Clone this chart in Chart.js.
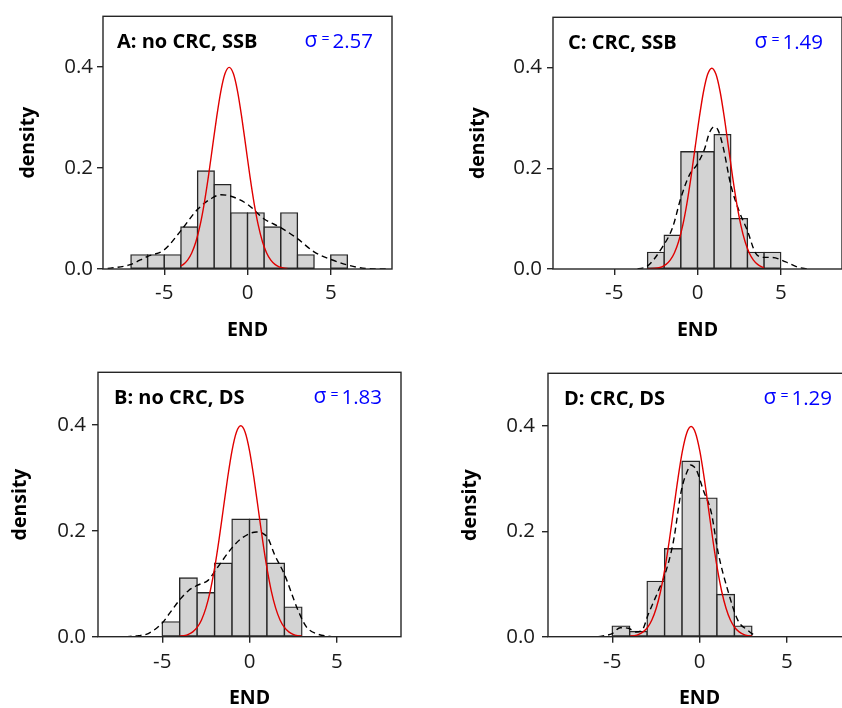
<!DOCTYPE html>
<html>
<head>
<meta charset="utf-8">
<script src="https://cdn.jsdelivr.net/npm/chart.js@4.4.1/dist/chart.umd.min.js"></script>
<style>
  html, body { margin: 0; padding: 0; background: #fff; overflow: hidden; }
  body { width: 842px; height: 708px; position: relative; }
  canvas { position: absolute; }
</style>
</head>
<body>
<canvas id="panelA" width="421" height="354" style="left:0px;top:0px"></canvas>
<canvas id="panelC" width="421" height="354" style="left:421px;top:0px"></canvas>
<canvas id="panelB" width="421" height="370" style="left:0px;top:354px"></canvas>
<canvas id="panelD" width="430" height="370" style="left:421px;top:354px"></canvas>
<script>
// axis ticks
var xTicks = [-5, 0, 5];
var yTicks = [0, 0.2, 0.4];

// panel titles and sigma labels
var labelA = 'A: no CRC, SSB', sigmaA = '2.57';
var labelB = 'B: no CRC, DS', sigmaB = '1.83';
var labelC = 'C: CRC, SSB', sigmaC = '1.49';
var labelD = 'D: CRC, DS', sigmaD = '1.29';

// histogram bins (centres) and densities
var binsA = [-6.5, -5.5, -4.5, -3.5, -2.5, -1.5, -0.5, 0.5, 1.5, 2.5, 3.5, 4.5, 5.5];
var densA = [0.028, 0.028, 0.028, 0.083, 0.194, 0.167, 0.111, 0.111, 0.083, 0.111, 0.028, 0, 0.028];
var binsB = [-4.5, -3.5, -2.5, -1.5, -0.5, 0.5, 1.5, 2.5];
var densB = [0.028, 0.111, 0.083, 0.139, 0.222, 0.222, 0.139, 0.056];
var binsC = [-2.5, -1.5, -0.5, 0.5, 1.5, 2.5, 3.5, 4.5];
var densC = [0.033, 0.067, 0.233, 0.233, 0.267, 0.1, 0.033, 0.033];
var binsD = [-4.5, -3.5, -2.5, -1.5, -0.5, 0.5, 1.5, 2.5];
var densD = [0.020, 0.010, 0.105, 0.167, 0.333, 0.263, 0.080, 0.020];

// red reference curves
var redXA = [-4.0, -3.85, -3.6, -3.35, -3.1, -2.85, -2.6, -2.35, -2.1, -1.85, -1.6, -1.35, -1.1, -0.85, -0.6, -0.35, -0.1, 0.15, 0.4, 0.65, 0.9, 1.15, 1.4, 1.65, 1.9, 2.15, 2.4];
var redYA = [0.006, 0.0091, 0.0175, 0.0317, 0.054, 0.0863, 0.1295, 0.1826, 0.242, 0.3011, 0.3521, 0.3867, 0.3989, 0.3867, 0.3521, 0.3011, 0.242, 0.1826, 0.1295, 0.0863, 0.054, 0.0317, 0.0175, 0.0091, 0.0044, 0.002, 0.0009];
var redXB = [-4.0, -3.75, -3.5, -3.25, -3.0, -2.75, -2.5, -2.25, -2.0, -1.75, -1.5, -1.25, -1.0, -0.75, -0.5, -0.25, 0, 0.25, 0.5, 0.75, 1.0, 1.25, 1.5, 1.75, 2.0, 2.25, 2.5, 2.75, 3.0];
var redYB = [0.0009, 0.002, 0.0044, 0.0091, 0.0175, 0.0317, 0.054, 0.0863, 0.1295, 0.1826, 0.242, 0.3011, 0.3521, 0.3867, 0.3989, 0.3867, 0.3521, 0.3011, 0.242, 0.1826, 0.1295, 0.0863, 0.054, 0.0317, 0.0175, 0.0091, 0.0044, 0.002, 0.0009];
var redXC = [-3.0, -2.64, -2.39, -2.14, -1.89, -1.64, -1.39, -1.14, -0.89, -0.64, -0.39, -0.14, 0.11, 0.36, 0.61, 0.86, 1.11, 1.36, 1.61, 1.86, 2.11, 2.36, 2.61, 2.86, 3.11, 3.36, 3.61, 3.86, 4.0];
var redYC = [0.0003, 0.0009, 0.002, 0.0044, 0.0091, 0.0175, 0.0317, 0.054, 0.0863, 0.1295, 0.1826, 0.242, 0.3011, 0.3521, 0.3867, 0.3989, 0.3867, 0.3521, 0.3011, 0.242, 0.1826, 0.1295, 0.0863, 0.054, 0.0317, 0.0175, 0.0091, 0.0044, 0.0029];
var redXD = [-3.98, -3.73, -3.48, -3.23, -2.98, -2.73, -2.48, -2.23, -1.98, -1.73, -1.48, -1.23, -0.98, -0.73, -0.48, -0.23, 0.02, 0.27, 0.52, 0.77, 1.02, 1.27, 1.52, 1.77, 2.02, 2.27, 2.52, 2.77, 3.02];
var redYD = [0.0009, 0.002, 0.0044, 0.0091, 0.0175, 0.0317, 0.054, 0.0863, 0.1295, 0.1826, 0.242, 0.3011, 0.3521, 0.3867, 0.3989, 0.3867, 0.3521, 0.3011, 0.242, 0.1826, 0.1295, 0.0863, 0.054, 0.0317, 0.0175, 0.0091, 0.0044, 0.002, 0.0009];

// dashed density estimates
var kdeXA = [-8.4, -7.1, -6.0, -5.0, -4.0, -3.0, -2.1, -1.6, -1.0, 0, 1.0, 2.0, 3.0, 4.0, 5.0, 6.0, 7.1, 8.5];
var kdeYA = [0.001, 0.008, 0.025, 0.038, 0.076, 0.118, 0.141, 0.147, 0.144, 0.128, 0.099, 0.082, 0.060, 0.034, 0.019, 0.008, 0.001, 0];
var kdeXB = [-7.1, -6.35, -5.8, -5.0, -4.54, -3.97, -3.5, -3.0, -2.36, -1.98, -1.03, -0.46, 0.4, 0.78, 1.06, 1.44, 2.0, 2.78, 3.25, 3.9, 4.7];
var kdeYB = [0, 0.002, 0.006, 0.026, 0.046, 0.071, 0.087, 0.097, 0.107, 0.124, 0.167, 0.186, 0.198, 0.195, 0.186, 0.155, 0.118, 0.050, 0.019, 0.005, 0];
var kdeXC = [-3.6, -3.0, -2.1, -1.5, -1.0, -0.5, 0, 0.42, 0.72, 0.98, 1.22, 1.52, 2.0, 2.5, 3.0, 3.5, 4.0, 4.5, 5.3, 6.1, 6.7];
var kdeYC = [0, 0.006, 0.044, 0.082, 0.141, 0.186, 0.209, 0.238, 0.271, 0.282, 0.277, 0.245, 0.167, 0.115, 0.076, 0.031, 0.023, 0.023, 0.014, 0.003, 0];
var kdeXD = [-5.8, -5.0, -4.54, -4.07, -3.65, -3.3, -2.93, -2.36, -1.98, -1.5, -1.03, -0.65, -0.5, -0.3, -0.17, 0.21, 0.68, 1.06, 1.63, 2.2, 2.78, 3.25];
var kdeYD = [0, 0.006, 0.017, 0.016, 0.009, 0.012, 0.043, 0.087, 0.118, 0.180, 0.279, 0.318, 0.326, 0.322, 0.316, 0.279, 0.235, 0.161, 0.087, 0.031, 0.012, 0];

var FONT = '"Open Sans", "Noto Sans", sans-serif';
var INK = '#262626';

function pairs(xs, ys) {
    return xs.map(function(x, i) { return {x: x, y: ys[i]}; });
}

// box round the plot, panel label and sigma text
var panelText = {
    id: 'panelText',
    afterDraw: function(chart, args, opts) {
        var ctx = chart.ctx, a = chart.chartArea;
        ctx.save();
        ctx.strokeStyle = INK;
        ctx.lineWidth = 1.4;
        ctx.strokeRect(a.left, a.top, a.right - a.left, a.bottom - a.top);

        var y = a.top + 25.5;
        ctx.textBaseline = 'middle';
        ctx.textAlign = 'left';
        ctx.fillStyle = '#000';
        ctx.font = 'bold 20px ' + FONT;
        ctx.fillText(opts.label, a.left + opts.labelDx, y);

        ctx.fillStyle = '#0000ff';
        ctx.textAlign = 'right';
        var x = a.right - 19;
        ctx.font = '20.5px ' + FONT;
        ctx.fillText(opts.sigma, x, y + 0.5);
        x -= ctx.measureText(opts.sigma).width + 3;
        ctx.font = '14px ' + FONT;
        ctx.fillText('=', x, y - 3);
        x -= ctx.measureText('=').width + 4;
        ctx.font = '21px ' + FONT;
        ctx.fillText('\u03c3', x, y - 1);
        ctx.restore();
    }
};

function makePanel(id, cfg) {
    var bw = 1.4;
    return new Chart(document.getElementById(id), {
        type: 'bar',
        data: {
            datasets: [
                {
                    type: 'line',
                    data: pairs(cfg.redX, cfg.redY),
                    borderColor: '#e00000',
                    borderWidth: 1.4,
                    pointRadius: 0,
                    cubicInterpolationMode: 'monotone',
                    order: 1
                },
                {
                    type: 'line',
                    data: pairs(cfg.kdeX, cfg.kdeY),
                    borderColor: '#000',
                    borderWidth: 1.4,
                    borderDash: [6, 4],
                    pointRadius: 0,
                    cubicInterpolationMode: 'monotone',
                    order: 2
                },
                {
                    data: pairs(cfg.bins, cfg.dens),
                    backgroundColor: '#d3d3d3',
                    borderColor: INK,
                    borderWidth: bw,
                    borderSkipped: false,
                    inflateAmount: bw / 2,
                    barPercentage: 1,
                    categoryPercentage: 1,
                    order: 3
                }
            ]
        },
        options: {
            responsive: false,
            animation: false,
            layout: { padding: { left: 0, top: cfg.padT, right: cfg.padR, bottom: 0 } },
            plugins: {
                legend: { display: false },
                tooltip: { enabled: false },
                panelText: { label: cfg.label, sigma: cfg.sigma, labelDx: cfg.labelDx }
            },
            scales: {
                x: {
                    type: 'linear',
                    min: -8.68,
                    max: 8.68,
                    offset: false,
                    border: { display: false },
                    grid: { offset: false, drawOnChartArea: false, drawTicks: true, tickLength: 6, color: INK, lineWidth: 1.4 },
                    afterBuildTicks: function(s) { s.ticks = xTicks.map(function(v) { return {value: v}; }); },
                    afterFit: function(s) { s.height = cfg.xH; },
                    ticks: {
                        font: { family: FONT, size: 20.5 },
                        color: '#1a1a1a',
                        padding: cfg.xTickPad,
                        maxRotation: 0,
                        callback: function(v) { return String(v); }
                    },
                    title: {
                        display: true,
                        text: 'END',
                        font: { family: FONT, size: 19.5, weight: 'bold' },
                        color: '#000',
                        padding: { top: 0, bottom: cfg.xTitlePad }
                    }
                },
                y: {
                    min: 0,
                    max: 0.5,
                    border: { display: false },
                    grid: { drawOnChartArea: false, drawTicks: true, tickLength: 6, color: INK, lineWidth: 1.4 },
                    afterBuildTicks: function(s) { s.ticks = yTicks.map(function(v) { return {value: v}; }); },
                    afterFit: function(s) { s.width = cfg.yW; },
                    ticks: {
                        font: { family: FONT, size: 20.5 },
                        color: '#1a1a1a',
                        padding: cfg.yTickPad,
                        callback: function(v) { return v.toFixed(1); }
                    },
                    title: {
                        display: true,
                        text: 'density',
                        font: { family: FONT, size: 19.5, weight: 'bold' },
                        color: '#000',
                        padding: { top: cfg.yTitlePad, bottom: 0 }
                    }
                }
            }
        },
        plugins: [panelText]
    });
}

makePanel('panelA', {
    bins: binsA, dens: densA, redX: redXA, redY: redYA, kdeX: kdeXA, kdeY: kdeYA,
    label: labelA, sigma: sigmaA, labelDx: 14,
    padT: 13, padR: 29, xH: 85, yW: 103, xTickPad: 6, yTickPad: 4, xTitlePad: 12.3, yTitlePad: 16.3
});
makePanel('panelC', {
    bins: binsC, dens: densC, redX: redXC, redY: redYC, kdeX: kdeXC, kdeY: kdeYC,
    label: labelC, sigma: sigmaC, labelDx: 15,
    padT: 13, padR: 0, xH: 85, yW: 132, xTickPad: 6, yTickPad: 5, xTitlePad: 12.3, yTitlePad: 45.3
});
makePanel('panelB', {
    bins: binsB, dens: densB, redX: redXB, redY: redYB, kdeX: kdeXB, kdeY: kdeYB,
    label: labelB, sigma: sigmaB, labelDx: 16,
    padT: 14.3, padR: 20, xH: 87.3, yW: 98, xTickPad: 7, yTickPad: 6, xTitlePad: 13.8, yTitlePad: 8.3
});
makePanel('panelD', {
    bins: binsD, dens: densD, redX: redXD, redY: redYD, kdeX: kdeXD, kdeY: kdeYD,
    label: labelD, sigma: sigmaD, labelDx: 16,
    padT: 14.3, padR: 0, xH: 87.3, yW: 127, xTickPad: 7, yTickPad: 7, xTitlePad: 13.8, yTitlePad: 37.3
});
</script>
</body>
</html>
